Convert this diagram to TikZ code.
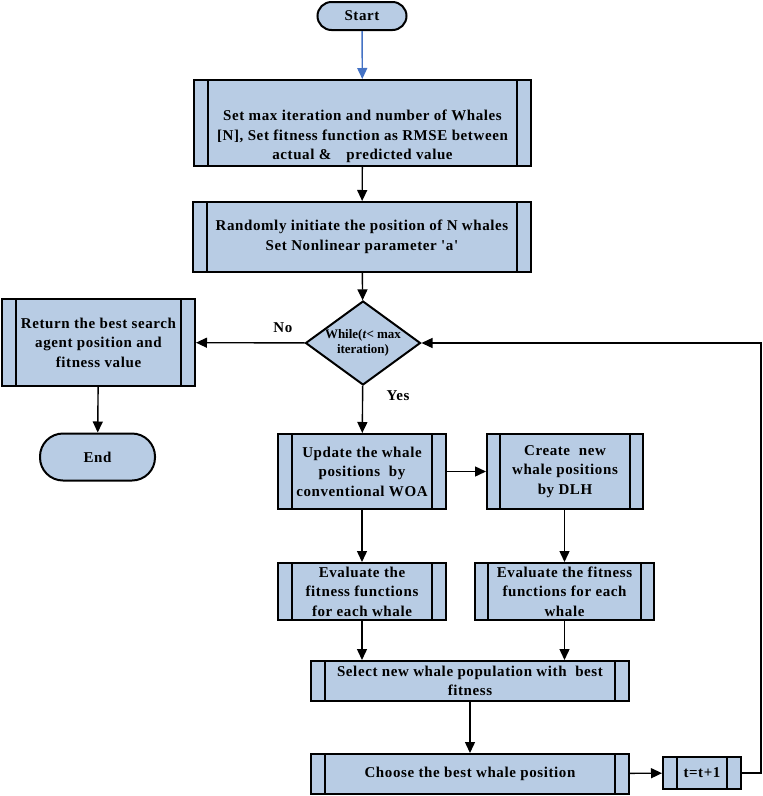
\documentclass[tikz,border=0pt]{standalone}
\usepackage{fontspec}
\setmainfont{Liberation Serif}
\newfontfamily\spacedfont{Liberation Serif}[LetterSpace=4]
\usetikzlibrary{arrows.meta,shapes.geometric,calc}
\definecolor{boxfill}{RGB}{184,204,228}
\definecolor{startblue}{RGB}{68,114,196}
\tikzset{
  base/.style={draw=black, line width=2pt, fill=boxfill, align=center, inner sep=0pt,
    font=\spacedfont\fontsize{15}{19.5}\selectfont\bfseries},
  terminal/.style={base, rounded corners=14pt},
  procbox/.style={base},
  decision/.style={base, diamond, aspect=1.37, font=\fontsize{13}{14.5}\selectfont\bfseries},
  conn/.style={draw=black, line width=1.4pt, -{Triangle[length=11pt,width=10pt]}},
  lbl/.style={font=\spacedfont\fontsize{15}{16}\selectfont\bfseries}
}
% predefined-process box: name, center, width, height, band, text
\newcommand{\pproc}[6]{%
  \node[procbox, minimum width=#3pt, minimum height=#4pt] (#1) at (#2) {#6};
  \draw[line width=2pt] ($(#1.north west)+(#5,0)$) -- ($(#1.south west)+(#5,0)$);
  \draw[line width=2pt] ($(#1.north east)+(-#5,0)$) -- ($(#1.south east)+(-#5,0)$);
}
\begin{document}
\begin{tikzpicture}[x=1pt,y=-1pt]
\useasboundingbox (0,0) rectangle (763,796);
\node[terminal, minimum width=89pt, minimum height=28pt] (start) at (362,16) {Start};
\pproc{init}{362.5,123}{337}{86}{15}{\rule{0pt}{38pt}Set max iteration and number of Whales\\{}{[N]}, Set fitness function as RMSE between\\actual \&\quad predicted value}
\pproc{rand}{362,237}{338}{70}{15}{Randomly initiate the position of N whales\\Set Nonlinear parameter 'a'}
\node[decision, minimum width=115pt, minimum height=84pt] (dec) at (363,343) {While(\textit{t}< max\\iteration)};
\pproc{ret}{98.5,342.5}{193}{87}{15}{Return the best search\\agent position and\\fitness value}
\node[terminal, minimum width=115pt, minimum height=47pt, rounded corners=23pt] (end) at (97.5,457) {End};
\pproc{upd}{362,471.5}{168}{75}{15}{Update the whale\\positions\ \ by\\conventional WOA}
\pproc{cre}{565,471.5}{156}{75}{14}{Create\ \ new\\whale positions\\by DLH}
\pproc{ev1}{362,591.5}{168}{57}{15}{Evaluate the\\fitness functions\\for each whale}
\pproc{ev2}{564.5,591.5}{179}{57}{14}{Evaluate the fitness\\functions for each\\whale}
\pproc{sel}{470,681}{318}{40}{15}{Select new whale population with\ \ best\\fitness}
\pproc{cho}{470,774}{318}{40}{15}{Choose the best whale position}
\pproc{tt}{702,773}{78}{32}{15}{t=t+1}
\coordinate (loopA) at (761,773);
\coordinate (loopB) at (761,343);

\draw[conn, draw=startblue, fill=startblue] (start) -- (init);
\draw[conn] (init) -- (rand);
\draw[conn] (rand) -- (dec);
\draw[conn] (dec) -- node[lbl, above, pos=0.2, yshift=6pt] {No} (ret);
\draw[conn] (ret) -- (end);
\draw[conn] (dec) -- node[lbl, right, pos=0.2, xshift=20pt] {Yes} (upd);
\draw[conn] (upd) -- (cre);
\draw[conn] (upd) -- (ev1);
\draw[conn] (cre.south -| ev2) -- (ev2);
\draw[conn] (ev1) -- (ev1 |- sel.north);
\draw[conn] (ev2) -- (ev2 |- sel.north);
\draw[conn] (sel) -- (cho);
\draw[conn] (cho) -- (tt);
\draw[conn] (tt.east) -- (loopA) -- (loopB) -- (dec.east);
\end{tikzpicture}
\end{document}
